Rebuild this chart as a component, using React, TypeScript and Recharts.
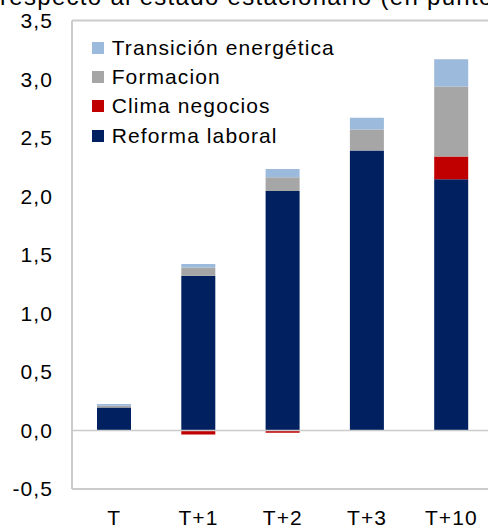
import { BarChart, Bar, XAxis, YAxis, ReferenceLine } from 'recharts';

const categories = ['T', 'T+1', 'T+2', 'T+3', 'T+10'];
const reforma = [0.195, 1.32, 2.045, 2.39, 2.145];
const clima = [0, -0.035, -0.02, 0, 0.193];
const formacion = [0.015, 0.072, 0.117, 0.179, 0.598];
const transicion = [0.015, 0.028, 0.071, 0.1, 0.234];
const yTicks = [-0.5, 0, 0.5, 1, 1.5, 2, 2.5, 3, 3.5];

const series = [
  { key: 'transicion', name: 'Transición energética', color: '#9CBADB' },
  { key: 'formacion', name: 'Formacion', color: '#A6A6A6' },
  { key: 'clima', name: 'Clima negocios', color: '#C00000' },
  { key: 'reforma', name: 'Reforma laboral', color: '#002060' },
];

const data = categories.map((name, i) => ({
  name,
  reforma: reforma[i],
  clima: clima[i],
  formacion: formacion[i],
  transicion: transicion[i],
}));

const FONT = '"Liberation Sans", Arial, sans-serif';
const frame = '#CBCBCB';
const fmt = (v: number) => v.toFixed(1).replace('.', ',');

export default function App() {
  const tick = { fontSize: 21, fill: '#000', fontFamily: FONT, letterSpacing: 1.1 };
  return (
    <div style={{ position: 'fixed', top: 0, left: 0, width: 488, height: 528, overflow: 'hidden', background: '#fff' }}>
      <svg width={488} height={30} style={{ position: 'absolute', top: 0, left: 0 }}>
        <text x={0} y={5} fontSize={24} fontFamily={FONT} letterSpacing={1.3} fill="#000">
          respecto al estado estacionario (en puntos porcentuales)
        </text>
      </svg>
      <div style={{ position: 'absolute', top: 0, left: 0 }}>
        <BarChart
          width={500}
          height={528}
          data={data}
          stackOffset="sign"
          barSize={34}
          margin={{ top: 20.5, right: 6.5, bottom: 0, left: 0 }}
        >
          <XAxis
            dataKey="name"
            height={39}
            tickLine={false}
            tickMargin={15}
            axisLine={{ stroke: frame, strokeWidth: 2 }}
            tick={tick}
            interval={0}
          />
          <YAxis
            width={72}
            domain={[-0.5, 3.5]}
            ticks={yTicks}
            tickFormatter={fmt}
            tickLine={false}
            tickMargin={13}
            axisLine={{ stroke: frame, strokeWidth: 2 }}
            tick={tick}
            allowDataOverflow
          />
          <ReferenceLine y={3.5} stroke={frame} strokeWidth={2} />
          <ReferenceLine y={0} stroke={frame} strokeWidth={1.5} />
          <Bar dataKey="reforma" stackId="a" fill="#002060" isAnimationActive={false} />
          <Bar dataKey="clima" stackId="a" fill="#C00000" isAnimationActive={false} />
          <Bar dataKey="formacion" stackId="a" fill="#A6A6A6" isAnimationActive={false} />
          <Bar dataKey="transicion" stackId="a" fill="#9CBADB" isAnimationActive={false} />
        </BarChart>
      </div>
      <div style={{ position: 'absolute', top: 33, left: 91.7, fontFamily: FONT, fontSize: 21, letterSpacing: 1.1, color: '#000' }}>
        {series.map(s => (
          <div key={s.key} style={{ height: 29.3, display: 'flex', alignItems: 'center', whiteSpace: 'nowrap' }}>
            <span style={{ display: 'inline-block', width: 12, height: 12, background: s.color, marginRight: 8 }} />
            {s.name}
          </div>
        ))}
      </div>
    </div>
  );
}
